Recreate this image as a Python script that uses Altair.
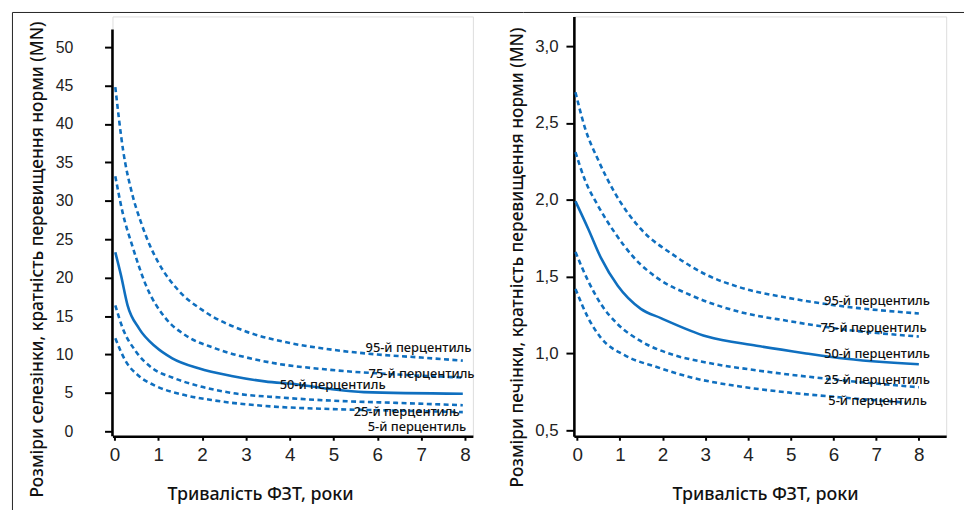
import altair as alt
import pandas as pd

# ---------------- Data: spleen (left panel) ----------------
sp95_x = [0.02, 0.2, 0.4, 0.6, 0.8, 1.0, 1.5, 2.0, 3.0, 4.0, 5.0, 6.0, 7.0, 7.95]
sp95_y = [44.8, 36.5, 31.0, 27.3, 24.3, 22.0, 18.1, 15.8, 13.0, 11.5, 10.6, 10.0, 9.6, 9.2]
sp75_x = [0.02, 0.19, 0.41, 0.72, 1.17, 1.62, 2.3, 3.43, 4.93, 6.44, 7.95]
sp75_y = [33.2, 28.4, 24.1, 19.0, 14.7, 12.5, 10.8, 9.1, 8.0, 7.4, 7.0]
sp50_x = [0.02, 0.15, 0.3, 0.56, 0.94, 1.32, 1.92, 2.67, 3.43, 4.18, 4.93, 5.69, 7.95]
sp50_y = [23.3, 20.3, 16.4, 13.4, 11.0, 9.5, 8.2, 7.2, 6.5, 6.1, 5.5, 5.1, 4.9]
sp25_x = [0.02, 0.19, 0.49, 0.87, 1.32, 1.92, 2.67, 3.8, 4.93, 6.44, 7.95]
sp25_y = [16.4, 13.4, 10.4, 8.2, 7.0, 5.9, 5.0, 4.4, 4.0, 3.7, 3.4]
sp05_x = [0.02, 0.26, 0.56, 0.94, 1.54, 2.3, 3.43, 4.93, 6.44, 7.95]
sp05_y = [12.1, 9.1, 7.2, 5.9, 4.8, 4.0, 3.3, 2.9, 2.7, 2.5]

sp_label_text = ["95-й перцентиль", "75-й перцентиль", "50-й перцентиль", "25-й перцентиль", "5-й перцентиль"]
sp_label_x = [5.73, 5.8, 3.77, 5.46, 5.78]
sp_label_y = [10.8, 7.4, 6.0, 2.45, 0.55]

# ---------------- Data: liver (right panel) ----------------
lv95_x = [-0.04, 0.18, 0.49, 0.87, 1.49, 2.26, 3.04, 3.81, 4.97, 6.13, 8.0]
lv95_y = [2.70, 2.47, 2.26, 2.05, 1.81, 1.64, 1.51, 1.43, 1.36, 1.31, 1.26]
lv75_x = [-0.04, 0.18, 0.49, 0.87, 1.34, 1.88, 2.65, 3.81, 4.97, 6.13, 8.0]
lv75_y = [2.31, 2.13, 1.96, 1.79, 1.62, 1.49, 1.38, 1.27, 1.21, 1.16, 1.11]
lv50_x = [-0.04, 0.26, 0.56, 0.95, 1.49, 1.96, 3.04, 4.2, 5.36, 6.13, 8.0]
lv50_y = [1.99, 1.81, 1.62, 1.44, 1.29, 1.23, 1.11, 1.05, 1.00, 0.97, 0.93]
lv25_x = [-0.04, 0.26, 0.56, 0.95, 1.49, 2.26, 3.04, 4.2, 5.36, 8.0]
lv25_y = [1.66, 1.47, 1.32, 1.19, 1.08, 0.99, 0.94, 0.89, 0.85, 0.78]
lv05_x = [-0.04, 0.26, 0.56, 1.1, 1.88, 2.65, 3.81, 4.97, 6.13, 7.7]
lv05_y = [1.42, 1.23, 1.10, 0.99, 0.91, 0.845, 0.785, 0.745, 0.715, 0.68]

lv_label_text = ["95-й перцентиль", "75-й перцентиль", "50-й перцентиль", "25-й перцентиль", "5-й перцентиль"]
lv_label_x = [5.78, 5.70, 5.78, 5.78, 5.88]
lv_label_y = [1.343, 1.165, 0.994, 0.828, 0.693]

x_ticks = [0, 1, 2, 3, 4, 5, 6, 7, 8]
sp_y_ticks = [0, 5, 10, 15, 20, 25, 30, 35, 40, 45, 50]
lv_y_ticks = [0.5, 1.0, 1.5, 2.0, 2.5, 3.0]

BLUE = "#0f6fbf"
TITLE_FONT = "Noto Sans"
LABEL_FONT = "Liberation Sans"


def long_df(series):
    rows = []
    for name, xs, ys in series:
        for i, (x, y) in enumerate(zip(xs, ys)):
            rows.append({"series": name, "x": x, "y": y, "order": i})
    return pd.DataFrame(rows)


def panel(series_dashed, series_solid, lab_text, lab_x, lab_y, xdom, ydom,
          width, height, yaxis, xaxis, frame_rules, yline=None):
    xs = alt.Scale(domain=xdom, nice=False, zero=False)
    ys = alt.Scale(domain=ydom, nice=False, zero=False)
    dashed = alt.Chart(long_df(series_dashed)).mark_line(
        color=BLUE, strokeWidth=2.6, strokeDash=[5, 3.5], interpolate="monotone"
    ).encode(
        x=alt.X("x:Q", scale=xs, axis=xaxis),
        y=alt.Y("y:Q", scale=ys, axis=yaxis),
        detail="series:N",
        order="order:Q",
    )
    solid = alt.Chart(long_df(series_solid)).mark_line(
        color=BLUE, strokeWidth=2.6, interpolate="monotone"
    ).encode(x="x:Q", y="y:Q", detail="series:N", order="order:Q")
    labels = alt.Chart(pd.DataFrame({"t": lab_text, "x": lab_x, "y": lab_y})).mark_text(
        align="left", baseline="middle", font=TITLE_FONT, fontSize=13, fontWeight=500, color="#111"
    ).encode(x="x:Q", y="y:Q", text="t:N")
    layers = [dashed, solid, labels] + frame_rules
    if yline is not None:
        layers.append(yline)
    return alt.layer(*layers).properties(width=width, height=height)


one = pd.DataFrame({"a": [0]})

# ---------- left panel ----------
L_W, L_H = 364, 424
left_frame = [
    alt.Chart(one).mark_rule(color="#222", strokeWidth=1).encode(
        x=alt.value(-101), y=alt.value(-4), y2=alt.value(500)),
    alt.Chart(one).mark_rule(color="#222", strokeWidth=1).encode(
        x=alt.value(-101), x2=alt.value(L_W + 51), y=alt.value(-4)),
]
left_yline = alt.Chart(pd.DataFrame({"y1": [52.3], "y2": [-0.644]})).mark_rule(
    color="black", strokeWidth=2.6).encode(x=alt.value(0), y="y1:Q", y2="y2:Q")

left_yaxis = alt.Axis(
    values=sp_y_ticks, title="Розміри селезінки, кратність перевищення норми (MN)",
    domain=False, tickSize=8, tickWidth=2, tickColor="black",
    labelFont=LABEL_FONT, labelFontSize=16, labelColor="#222", labelPadding=32,
    titleFont=TITLE_FONT, titleFontSize=17.5, titleFontWeight=500, titleColor="#111",
    titleX=-76, titleY=245, titleBaseline="middle", titleAlign="center", titleAngle=-90,
    grid=False,
)
x_axis_left = alt.Axis(
    values=x_ticks, title="Тривалість ФЗТ, роки", domainColor="black", domainWidth=2.6,
    tickSize=4, tickWidth=2, tickColor="black",
    labelFont=LABEL_FONT, labelFontSize=19, labelColor="#222", labelPadding=5,
    titleFont=TITLE_FONT, titleFontSize=18, titleFontWeight=500, titleColor="#111",
    titleX=149, titleY=59, titleBaseline="middle", titleAlign="center",
    grid=False,
)
left = panel(
    [("95", sp95_x, sp95_y), ("75", sp75_x, sp75_y), ("25", sp25_x, sp25_y), ("5", sp05_x, sp05_y)],
    [("50", sp50_x, sp50_y)],
    sp_label_text, sp_label_x, sp_label_y,
    [-0.045, 8.18], [-0.644, 54.0], L_W, L_H,
    left_yaxis, x_axis_left, left_frame, left_yline,
)

# ---------- right panel ----------
R_W, R_H = 376, 424
right_frame = [
    alt.Chart(one).mark_rule(color="#222", strokeWidth=1).encode(
        x=alt.value(-51), x2=alt.value(394), y=alt.value(-4)),
]
right_yaxis = alt.Axis(
    values=lv_y_ticks, title="Розміри печінки, кратність перевищення норми (MN)",
    labelExpr="replace(format(datum.value, '.1f'), '.', ',')",
    domainColor="black", domainWidth=2.6, tickSize=8, tickWidth=2, tickColor="black",
    labelFont=LABEL_FONT, labelFontSize=17, labelColor="#222", labelPadding=8,
    titleFont=TITLE_FONT, titleFontSize=17.5, titleFontWeight=500, titleColor="#111",
    titleX=-57, titleY=243, titleBaseline="middle", titleAlign="center", titleAngle=-90,
    grid=False,
)
x_axis_right = alt.Axis(
    values=x_ticks, title="Тривалість ФЗТ, роки", domainColor="black", domainWidth=2.6,
    tickSize=4, tickWidth=2, tickColor="black",
    labelFont=LABEL_FONT, labelFontSize=19, labelColor="#222", labelPadding=5,
    titleFont=TITLE_FONT, titleFontSize=18, titleFontWeight=500, titleColor="#111",
    titleX=193, titleY=59, titleBaseline="middle", titleAlign="center",
    grid=False,
)
right = panel(
    [("95", lv95_x, lv95_y), ("75", lv75_x, lv75_y), ("25", lv25_x, lv25_y), ("5", lv05_x, lv05_y)],
    [("50", lv50_x, lv50_y)],
    lv_label_text, lv_label_x, lv_label_y,
    [-0.077, 8.64], [0.461, 3.193], R_W, R_H,
    right_yaxis, x_axis_right, right_frame,
)

chart = alt.hconcat(left, right, spacing=102, bounds="flush").properties(
    padding={"left": 3.5, "top": 1, "right": 0, "bottom": 0}
).configure_view(stroke=None).configure(background="white")

chart.save("out.html", embed_options={"renderer": "svg", "actions": False})
